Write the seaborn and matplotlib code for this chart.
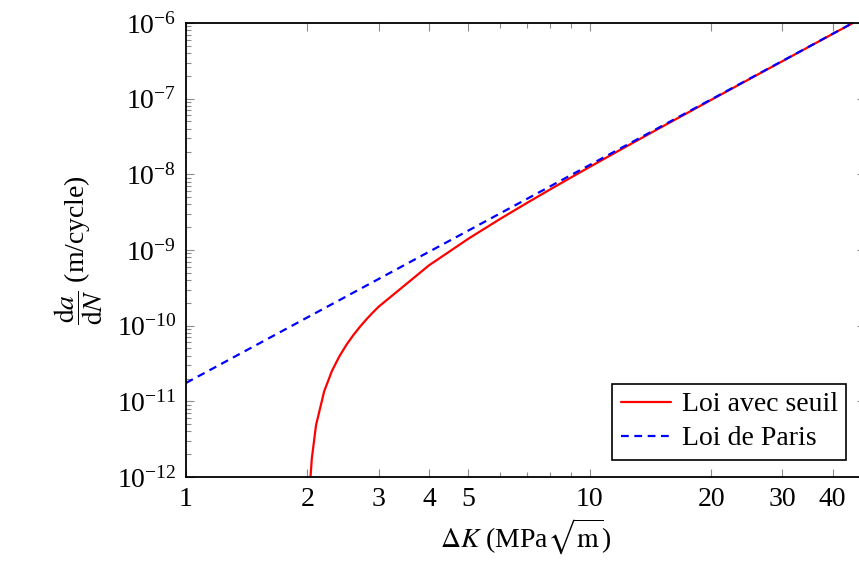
import numpy as np
import pandas as pd
import seaborn as sns
import matplotlib.pyplot as plt
from matplotlib.ticker import FixedLocator, NullFormatter, LogLocator

# Loi avec seuil (courbe rouge)
dk_seuil = [2.001, 2.01, 2.02, 2.03, 2.05, 2.1, 2.2, 2.3, 2.4, 2.5, 2.6, 2.7, 2.8, 2.9, 3,
            4, 5, 6, 7, 8, 9, 10, 12, 15, 20, 25, 30, 35, 40, 45]
dadn_seuil = [6.1e-15, 1.70e-13, 4.64e-13, 8.35e-13, 1.755e-12, 4.85e-12, 1.36e-11, 2.53e-11,
              3.95e-11, 5.63e-11, 7.55e-11, 9.72e-11, 1.215e-10, 1.483e-10, 1.777e-10,
              6.27e-10, 1.403e-9, 2.573e-9, 4.20e-9, 6.36e-9, 9.11e-9, 1.251e-8, 2.155e-8,
              4.16e-8, 9.63e-8, 1.842e-7, 3.12e-7, 4.875e-7, 7.17e-7, 1.007e-6]

# Loi de Paris (droite bleue)
dk_paris = [1, 2, 5, 10, 20, 45]
dadn_paris = [1.75e-11, 1.288e-10, 1.80e-9, 1.328e-8, 9.77e-8, 1.01e-6]

x_ticks = [1, 2, 3, 4, 5, 10, 20, 30, 40]

df = pd.concat([
    pd.DataFrame({"dK": dk_seuil, "dadN": dadn_seuil, "loi": "Loi avec seuil"}),
    pd.DataFrame({"dK": dk_paris, "dadN": dadn_paris, "loi": "Loi de Paris"}),
])

sns.set_style("ticks")
plt.rcParams["font.family"] = ["Liberation Serif", "DejaVu Serif"]
plt.rcParams["mathtext.fontset"] = "stix"
plt.rcParams["text.color"] = "black"
plt.rcParams["axes.labelcolor"] = "black"

fig = plt.figure(figsize=(8.59, 5.67), dpi=100)
ax = fig.add_axes([0.2165, 0.1587, 0.79, 0.8007])

sns.lineplot(data=df, x="dK", y="dadN", hue="loi", style="loi",
             palette={"Loi avec seuil": "red", "Loi de Paris": "blue"},
             dashes={"Loi avec seuil": "", "Loi de Paris": (3.5, 2.5)},
             linewidth=1.6, ax=ax, sort=False)

ax.set_xscale("log")
ax.set_yscale("log")
ax.set_xlim(1, 48)
ax.set_ylim(1e-12, 1e-6)

ax.xaxis.set_major_locator(FixedLocator(x_ticks))
ax.set_xticklabels([str(t) for t in x_ticks])
ax.xaxis.set_minor_locator(FixedLocator([6, 7, 8, 9]))
ax.xaxis.set_minor_formatter(NullFormatter())
ax.yaxis.set_major_locator(LogLocator(base=10, numticks=10))
ax.yaxis.set_minor_locator(LogLocator(base=10, subs=np.arange(2, 10), numticks=20))
ax.yaxis.set_minor_formatter(NullFormatter())

ax.tick_params(which="both", direction="in", top=True, right=True, color="0.55",
               labelcolor="black", labelsize=20, pad=7)
ax.tick_params(which="major", length=6, width=0.8)
ax.tick_params(which="minor", length=3.5, width=0.8)
for s in ax.spines.values():
    s.set_linewidth(1.3)
    s.set_color("black")

ax.set_xlabel(r"$\Delta K$ (MPa$\sqrt{\mathrm{m}}$)", fontsize=20, labelpad=4)
ax.set_ylabel(r"$\dfrac{\mathrm{d}a}{\mathrm{d}N}$ (m/cycle)", fontsize=20, labelpad=8)

leg = ax.legend(loc="lower right", bbox_to_anchor=(0.985, 0.02), fontsize=20,
                frameon=True, fancybox=False, edgecolor="black", framealpha=1,
                handlelength=1.8, handletextpad=0.4, borderpad=0.3, labelspacing=0.3,
                borderaxespad=0.3)
leg.get_frame().set_linewidth(1.2)

fig.savefig("out.png", dpi=100)
